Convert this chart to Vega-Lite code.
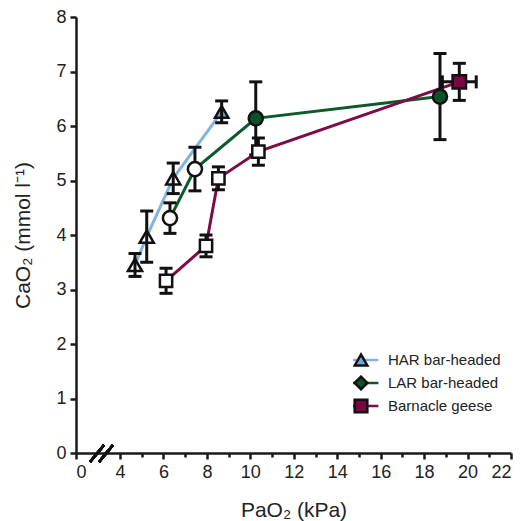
{
  "$schema": "https://vega.github.io/schema/vega-lite/v6.json",
  "autosize": {"type": "none"},
  "width": 435,
  "height": 436,
  "padding": {"left": 76, "top": 17, "right": 16, "bottom": 68},
  "background": "white",
  "config": {
    "view": {"stroke": null},
    "font": "Liberation Sans",
    "axis": {
      "grid": false,
      "domainColor": "#1a1a1a",
      "domainWidth": 2.5,
      "tickColor": "#1a1a1a",
      "tickWidth": 2.5,
      "labelFont": "Liberation Sans",
      "labelFontSize": 18,
      "labelColor": "#222222",
      "titleFont": "Liberation Sans",
      "titleFontSize": 21,
      "titleFontWeight": "normal",
      "titleColor": "#222222"
    },
    "legend": {
      "labelFont": "Liberation Sans",
      "labelFontSize": 15,
      "labelColor": "#222222",
      "labelLimit": 300
    }
  },
  "data": {
    "values": [
      {"series": "HAR bar-headed", "phase": "hypoxia", "x": 4.69, "y": 3.45, "yerr": 0.21, "xerr": 0},
      {"series": "HAR bar-headed", "phase": "hypoxia", "x": 5.23, "y": 3.97, "yerr": 0.47, "xerr": 0},
      {"series": "HAR bar-headed", "phase": "hypoxia", "x": 6.45, "y": 5.04, "yerr": 0.28, "xerr": 0},
      {"series": "HAR bar-headed", "phase": "normoxia", "x": 8.68, "y": 6.26, "yerr": 0.2, "xerr": 0},
      {"series": "LAR bar-headed", "phase": "hypoxia", "x": 6.3, "y": 4.31, "yerr": 0.28, "xerr": 0},
      {"series": "LAR bar-headed", "phase": "hypoxia", "x": 7.45, "y": 5.21, "yerr": 0.4, "xerr": 0},
      {"series": "LAR bar-headed", "phase": "normoxia", "x": 10.25, "y": 6.14, "yerr": 0.67, "xerr": 0},
      {"series": "LAR bar-headed", "phase": "normoxia", "x": 18.73, "y": 6.54, "yerr": 0.79, "xerr": 0},
      {"series": "Barnacle geese", "phase": "hypoxia", "x": 6.12, "y": 3.16, "yerr": 0.23, "xerr": 0},
      {"series": "Barnacle geese", "phase": "hypoxia", "x": 7.96, "y": 3.8, "yerr": 0.2, "xerr": 0},
      {"series": "Barnacle geese", "phase": "hypoxia", "x": 8.53, "y": 5.04, "yerr": 0.21, "xerr": 0},
      {"series": "Barnacle geese", "phase": "hypoxia", "x": 10.37, "y": 5.53, "yerr": 0.25, "xerr": 0},
      {"series": "Barnacle geese", "phase": "normoxia", "x": 19.62, "y": 6.81, "yerr": 0.34, "xerr": 0.78}
    ]
  },
  "encoding": {
    "x": {"field": "x", "type": "quantitative",
      "scale": {"domain": [0, 4, 22], "range": [0, 44, 435], "nice": false, "zero": false},
      "axis": {
        "title": "PaO₂ (kPa)",
        "values": [0, 4, 5, 6, 7, 8, 9, 10, 11, 12, 13, 14, 15, 16, 17, 18, 19, 20, 21, 22],
        "tickCount": 100,
        "format": "d",
        "labelExpr": "datum.value % 2 === 0 ? datum.label : ''",
        "tickSize": {"condition": {"test": "datum.value % 2 === 1", "value": 4}, "value": 6},
        "labelPadding": 4,
        "labelOverlap": false,
        "titlePadding": 18
      }
    },
    "y": {"field": "y", "type": "quantitative",
      "scale": {"domain": [0, 8], "nice": false, "zero": false},
      "axis": {
        "title": "CaO₂ (mmol l⁻¹)",
        "values": [0, 0.5, 1, 1.5, 2, 2.5, 3, 3.5, 4, 4.5, 5, 5.5, 6, 6.5, 7, 7.5, 8],
        "tickCount": 100,
        "format": "d",
        "labelExpr": "datum.value % 1 === 0 ? datum.label : ''",
        "tickSize": {"condition": {"test": "datum.value % 1 !== 0", "value": 4}, "value": 6},
        "labelPadding": 4,
        "labelOverlap": false,
        "titlePadding": 22
      }
    }
  },
  "layer": [
    {
      "mark": {"type": "line", "strokeWidth": 3},
      "encoding": {
        "color": {"field": "series", "type": "nominal",
          "scale": {"range": ["#7c0b47", "#84b3e3", "#0c5a2a"]},
          "legend": {
            "orient": "none", "legendX": 277, "legendY": 335, "title": null,
            "values": ["HAR bar-headed", "LAR bar-headed", "Barnacle geese"],
            "symbolType": "M-2.75,0H2.75", "symbolSize": 160, "symbolStrokeWidth": 2.5,
            "labelOffset": 19, "rowPadding": 7, "clipHeight": 16
          }
        }
      }
    },
    {
      "transform": [{"filter": "datum.series !== 'HAR bar-headed'"}],
      "mark": {"type": "errorbar", "ticks": {"opacity": 1, "color": "#111111"}, "rule": {"opacity": 1, "color": "#111111"}, "size": 13, "thickness": 3, "color": "#111111"},
      "encoding": {"yError": {"field": "yerr"}}
    },
    {
      "transform": [{"filter": "datum.xerr > 0"}],
      "mark": {"type": "errorbar", "ticks": {"opacity": 1, "color": "#111111"}, "rule": {"opacity": 1, "color": "#111111"}, "size": 13, "thickness": 3, "color": "#111111"},
      "encoding": {"xError": {"field": "xerr"}}
    },
    {
      "transform": [{"filter": "datum.phase === 'hypoxia' && datum.series === 'HAR bar-headed'"}],
      "mark": {"type": "point", "shape": "triangle-up", "filled": true, "opacity": 1, "size": 200, "fill": "white", "stroke": "#111111", "strokeWidth": 2.5}
    },
    {
      "transform": [{"filter": "datum.phase === 'hypoxia' && datum.series === 'Barnacle geese'"}],
      "mark": {"type": "point", "shape": "square", "filled": true, "opacity": 1, "size": 150, "fill": "white", "stroke": "#111111", "strokeWidth": 2.5}
    },
    {
      "transform": [{"filter": "datum.phase === 'hypoxia' && datum.series === 'LAR bar-headed'"}],
      "mark": {"type": "point", "shape": "circle", "filled": true, "opacity": 1, "size": 200, "fill": "white", "stroke": "#111111", "strokeWidth": 2.5}
    },
    {
      "transform": [{"filter": "datum.phase === 'normoxia' && datum.series === 'LAR bar-headed'"}],
      "mark": {"type": "point", "shape": "circle", "filled": true, "opacity": 1, "size": 200, "fill": "#0b5226", "stroke": "#111111", "strokeWidth": 2.5}
    },
    {
      "transform": [{"filter": "datum.phase === 'normoxia' && datum.series !== 'LAR bar-headed'"}],
      "mark": {"type": "point", "filled": true, "opacity": 1, "size": 180, "stroke": "#111111", "strokeWidth": 2.5},
      "encoding": {
        "fill": {
          "field": "series", "type": "nominal",
          "scale": {"domain": ["HAR bar-headed", "LAR bar-headed", "Barnacle geese"], "range": ["#6fa8dd", "#0b5226", "#7a0644"]},
          "legend": {
            "orient": "none", "legendX": 277, "legendY": 335, "title": null,
            "symbolSize": 160, "symbolStrokeWidth": 2.5, "symbolStrokeColor": "#111111", "symbolOpacity": 1,
            "labelOffset": 19, "rowPadding": 7, "clipHeight": 16, "labelOpacity": 0,
            "encode": {"symbols": {"update": {"stroke": {"value": "#111111"}, "strokeWidth": {"value": 2.5}}}}
          }
        },
        "shape": {
          "field": "series", "type": "nominal",
          "scale": {"domain": ["HAR bar-headed", "LAR bar-headed", "Barnacle geese"], "range": ["triangle-up", "diamond", "square"]},
          "legend": {
            "orient": "none", "legendX": 277, "legendY": 335, "title": null,
            "symbolSize": 160, "symbolStrokeWidth": 2.5, "symbolStrokeColor": "#111111", "symbolOpacity": 1,
            "labelOffset": 19, "rowPadding": 7, "clipHeight": 16, "labelOpacity": 0,
            "encode": {"symbols": {"update": {"stroke": {"value": "#111111"}, "strokeWidth": {"value": 2.5}}}}
          }
        }
      }
    },
    {
      "transform": [{"filter": "datum.series === 'HAR bar-headed'"}],
      "mark": {"type": "errorbar", "ticks": {"opacity": 1, "color": "#111111"}, "rule": {"opacity": 1, "color": "#111111"}, "size": 13, "thickness": 3, "color": "#111111"},
      "encoding": {"yError": {"field": "yerr"}}
    },
    {
      "mark": {"type": "rule", "strokeWidth": 2.5, "color": "#111111"},
      "encoding": {
        "x": {"datum": 1.27, "type": "quantitative", "scale": {"domain": [0, 4, 22], "range": [0, 44, 435], "nice": false, "zero": false}, "axis": {"title": "PaO₂ (kPa)"}},
        "x2": {"datum": 2.55},
        "y": {"datum": -0.165, "type": "quantitative", "scale": {"domain": [0, 8], "nice": false, "zero": false}, "axis": {"title": "CaO₂ (mmol l⁻¹)"}},
        "y2": {"datum": 0.147}
      }
    },
    {
      "mark": {"type": "rule", "strokeWidth": 2.5, "color": "#111111"},
      "encoding": {
        "x": {"datum": 2.09, "type": "quantitative", "scale": {"domain": [0, 4, 22], "range": [0, 44, 435], "nice": false, "zero": false}, "axis": {"title": "PaO₂ (kPa)"}},
        "x2": {"datum": 3.36},
        "y": {"datum": -0.165, "type": "quantitative", "scale": {"domain": [0, 8], "nice": false, "zero": false}, "axis": {"title": "CaO₂ (mmol l⁻¹)"}},
        "y2": {"datum": 0.147}
      }
    }
  ]
}
